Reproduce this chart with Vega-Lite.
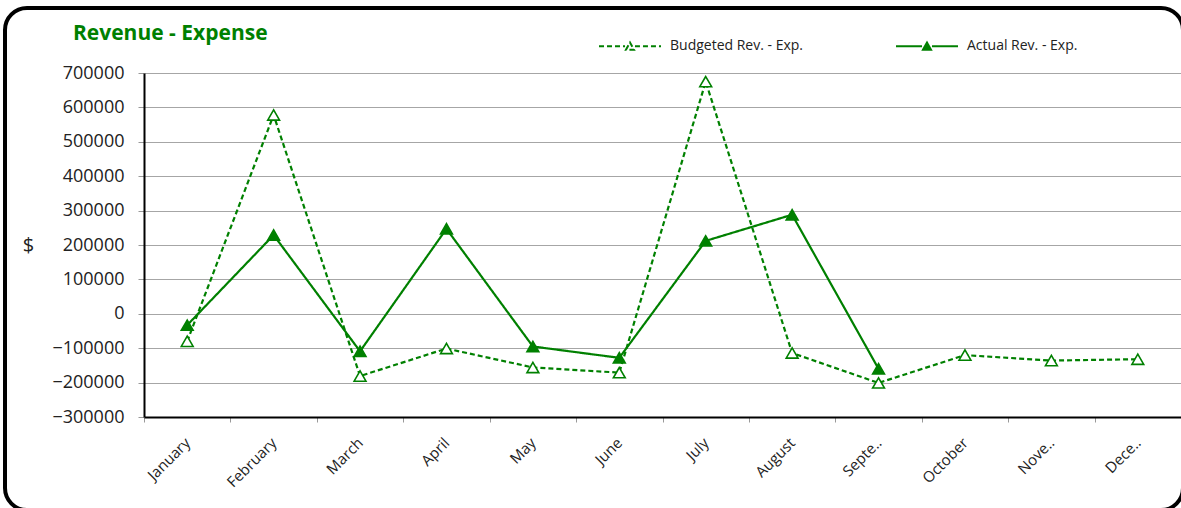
{
  "$schema": "https://vega.github.io/schema/vega-lite/v6.json",
  "autosize": "none",
  "padding": {"left": 5, "top": 8, "right": 0, "bottom": 0},
  "width": 1178,
  "height": 502,
  "background": "white",
  "config": {
    "view": {"stroke": "black", "strokeWidth": 4, "cornerRadius": 22, "fill": "white"},
    "font": "Open Sans"
  },
  "title": {
    "text": "Revenue - Expense",
    "anchor": "start",
    "frame": "group",
    "orient": "top",
    "offset": 0,
    "dx": 68,
    "dy": 53,
    "baseline": "alphabetic",
    "fontSize": 21,
    "fontWeight": "bold",
    "color": "#008000",
    "font": "Open Sans"
  },
  "data": {
    "values": [
      {"month": "January", "series": "Budgeted Rev. - Exp.", "value": -80000},
      {"month": "February", "series": "Budgeted Rev. - Exp.", "value": 578000},
      {"month": "March", "series": "Budgeted Rev. - Exp.", "value": -181000},
      {"month": "April", "series": "Budgeted Rev. - Exp.", "value": -101000},
      {"month": "May", "series": "Budgeted Rev. - Exp.", "value": -156000},
      {"month": "June", "series": "Budgeted Rev. - Exp.", "value": -171000},
      {"month": "July", "series": "Budgeted Rev. - Exp.", "value": 675000},
      {"month": "August", "series": "Budgeted Rev. - Exp.", "value": -114000},
      {"month": "September", "series": "Budgeted Rev. - Exp.", "value": -201000},
      {"month": "October", "series": "Budgeted Rev. - Exp.", "value": -120000},
      {"month": "November", "series": "Budgeted Rev. - Exp.", "value": -136000},
      {"month": "December", "series": "Budgeted Rev. - Exp.", "value": -132000},
      {"month": "January", "series": "Actual Rev. - Exp.", "value": -33000},
      {"month": "February", "series": "Actual Rev. - Exp.", "value": 229000},
      {"month": "March", "series": "Actual Rev. - Exp.", "value": -109000},
      {"month": "April", "series": "Actual Rev. - Exp.", "value": 247000},
      {"month": "May", "series": "Actual Rev. - Exp.", "value": -95000},
      {"month": "June", "series": "Actual Rev. - Exp.", "value": -128000},
      {"month": "July", "series": "Actual Rev. - Exp.", "value": 212000},
      {"month": "August", "series": "Actual Rev. - Exp.", "value": 288000},
      {"month": "September", "series": "Actual Rev. - Exp.", "value": -160000}
    ]
  },
  "encoding": {
    "x": {
      "field": "month",
      "type": "ordinal",
      "sort": ["January", "February", "March", "April", "May", "June", "July", "August", "September", "October", "November", "December"],
      "bandPosition": 0.5,
      "scale": {"type": "band", "range": [139, 1176], "paddingInner": 0, "paddingOuter": 0},
      "axis": {
        "title": null,
        "offset": -93,
        "labelAngle": -45,
        "labelAlign": "right",
        "labelBaseline": "middle",
        "labelFontSize": 15,
        "labelColor": "#222222",
        "labelPadding": 18,
        "labelExpr": "datum.label == 'September' ? 'Septe..' : datum.label == 'November' ? 'Nove..' : datum.label == 'December' ? 'Dece..' : datum.label",
        "tickBand": "extent",
        "tickSize": 5,
        "tickColor": "#999999",
        "domainColor": "black",
        "domainWidth": 2,
        "grid": false
      }
    },
    "y": {
      "field": "value",
      "type": "quantitative",
      "scale": {"domain": [-300000, 700000], "range": [409, 65], "nice": false, "zero": false},
      "axis": {
        "title": "$",
        "titleAngle": 0,
        "titleX": -116,
        "titleY": 237,
        "titleAlign": "center",
        "titleBaseline": "middle",
        "titleFontSize": 20,
        "titleFontWeight": "normal",
        "titleColor": "#222222",
        "offset": -139,
        "values": [-300000, -200000, -100000, 0, 100000, 200000, 300000, 400000, 500000, 600000, 700000],
        "format": "d",
        "labelFontSize": 18,
        "labelColor": "#222222",
        "labelPadding": 14,
        "tickSize": 6,
        "tickColor": "#999999",
        "domainColor": "black",
        "domainWidth": 2,
        "gridColor": "#A6A6A6",
        "gridWidth": 1
      }
    }
  },
  "layer": [
    {
      "mark": {"type": "line", "color": "#008000", "strokeWidth": 2.2},
      "encoding": {
        "strokeDash": {
          "field": "series",
          "type": "nominal",
          "scale": {"domain": ["Budgeted Rev. - Exp.", "Actual Rev. - Exp."], "range": [[5, 3], [1, 0]]},
          "legend": {
            "title": null,
            "orient": "none",
            "legendX": 593,
            "legendY": 6,
            "direction": "horizontal",
            "padding": 0,
            "symbolType": "M -1 0 L -0.16 0 M 0.16 0 L 1 0 M -0.13 0.11 L 0 -0.12 L 0.13 0.11 Z",
            "symbolSize": 3844,
            "symbolStrokeColor": "#008000",
            "symbolStrokeWidth": 2,
            "labelFontSize": 14,
            "labelColor": "#222222",
            "labelOffset": 8,
            "columnPadding": 88,
            "encode": {
              "symbols": {
                "update": {
                  "stroke": {"value": "#008000"},
                  "strokeWidth": {"value": 2},
                  "opacity": {"value": 1},
                  "fill": {"signal": "datum.value === 'Actual Rev. - Exp.' ? '#008000' : '#ffffff'"}
                }
              }
            }
          }
        }
      }
    },
    {
      "mark": {"type": "point", "shape": "triangle-up", "size": 140, "filled": true, "stroke": "#008000", "strokeWidth": 1.6, "opacity": 1},
      "encoding": {
        "fill": {
          "field": "series",
          "type": "nominal",
          "scale": {"domain": ["Budgeted Rev. - Exp.", "Actual Rev. - Exp."], "range": ["#ffffff", "#008000"]},
          "legend": null
        }
      }
    }
  ]
}
